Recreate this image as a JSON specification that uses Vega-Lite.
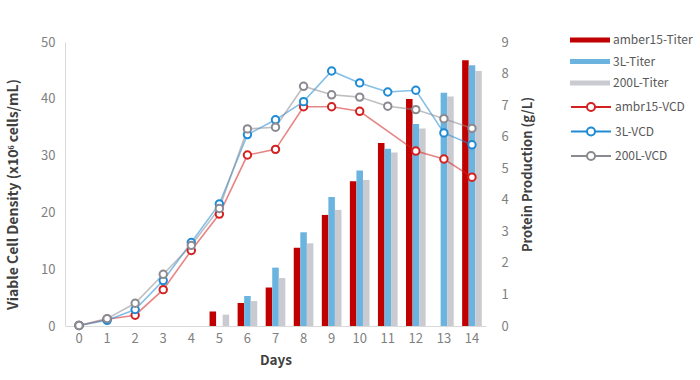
{
  "$schema": "https://vega.github.io/schema/vega-lite/v6.json",
  "autosize": {"type": "none"},
  "padding": {"left": 65, "top": 42, "right": 214, "bottom": 54},
  "width": 421,
  "height": 284,
  "background": "white",
  "config": {
    "font": "Noto Sans CJK SC",
    "view": {"stroke": null},
    "axis": {
      "grid": false,
      "ticks": false,
      "labelColor": "#7f7f7f",
      "labelFontSize": 13,
      "labelFont": "Noto Sans CJK SC",
      "titleFont": "Noto Sans CJK SC",
      "titleColor": "#404040",
      "titleFontSize": 13,
      "titleFontWeight": "bold",
      "domainColor": "#d9d9d9"
    },
    "legend": {
      "labelFont": "Noto Sans CJK SC",
      "labelFontSize": 12,
      "labelColor": "#595959"
    }
  },
  "datasets": {
    "titer": [
      {"day": 5, "series": "amber15-Titer", "titer": 0.46},
      {"day": 5, "series": "200L-Titer", "titer": 0.36},
      {"day": 6, "series": "amber15-Titer", "titer": 0.73},
      {"day": 6, "series": "3L-Titer", "titer": 0.95},
      {"day": 6, "series": "200L-Titer", "titer": 0.79},
      {"day": 7, "series": "amber15-Titer", "titer": 1.22},
      {"day": 7, "series": "3L-Titer", "titer": 1.85},
      {"day": 7, "series": "200L-Titer", "titer": 1.52},
      {"day": 8, "series": "amber15-Titer", "titer": 2.48},
      {"day": 8, "series": "3L-Titer", "titer": 2.97},
      {"day": 8, "series": "200L-Titer", "titer": 2.62},
      {"day": 9, "series": "amber15-Titer", "titer": 3.52},
      {"day": 9, "series": "3L-Titer", "titer": 4.09},
      {"day": 9, "series": "200L-Titer", "titer": 3.68},
      {"day": 10, "series": "amber15-Titer", "titer": 4.59},
      {"day": 10, "series": "3L-Titer", "titer": 4.93},
      {"day": 10, "series": "200L-Titer", "titer": 4.63},
      {"day": 11, "series": "amber15-Titer", "titer": 5.8},
      {"day": 11, "series": "3L-Titer", "titer": 5.62},
      {"day": 11, "series": "200L-Titer", "titer": 5.5},
      {"day": 12, "series": "amber15-Titer", "titer": 7.19},
      {"day": 12, "series": "3L-Titer", "titer": 6.4},
      {"day": 12, "series": "200L-Titer", "titer": 6.26},
      {"day": 13, "series": "3L-Titer", "titer": 7.39},
      {"day": 13, "series": "200L-Titer", "titer": 7.27},
      {"day": 14, "series": "amber15-Titer", "titer": 8.42},
      {"day": 14, "series": "3L-Titer", "titer": 8.26},
      {"day": 14, "series": "200L-Titer", "titer": 8.08}
    ],
    "vcd": [
      {"day": 0, "series": "ambr15-VCD", "vcd": 0.1},
      {"day": 1, "series": "ambr15-VCD", "vcd": 1.2},
      {"day": 2, "series": "ambr15-VCD", "vcd": 1.9},
      {"day": 3, "series": "ambr15-VCD", "vcd": 6.4},
      {"day": 4, "series": "ambr15-VCD", "vcd": 13.3},
      {"day": 5, "series": "ambr15-VCD", "vcd": 19.7},
      {"day": 6, "series": "ambr15-VCD", "vcd": 30.1},
      {"day": 7, "series": "ambr15-VCD", "vcd": 31.1},
      {"day": 8, "series": "ambr15-VCD", "vcd": 38.6},
      {"day": 9, "series": "ambr15-VCD", "vcd": 38.6},
      {"day": 10, "series": "ambr15-VCD", "vcd": 37.8},
      {"day": 12, "series": "ambr15-VCD", "vcd": 30.8},
      {"day": 13, "series": "ambr15-VCD", "vcd": 29.4},
      {"day": 14, "series": "ambr15-VCD", "vcd": 26.2},
      {"day": 0, "series": "3L-VCD", "vcd": 0.1},
      {"day": 1, "series": "3L-VCD", "vcd": 1.0},
      {"day": 2, "series": "3L-VCD", "vcd": 2.9},
      {"day": 3, "series": "3L-VCD", "vcd": 8.0},
      {"day": 4, "series": "3L-VCD", "vcd": 14.7},
      {"day": 5, "series": "3L-VCD", "vcd": 21.5},
      {"day": 6, "series": "3L-VCD", "vcd": 33.7},
      {"day": 7, "series": "3L-VCD", "vcd": 36.3},
      {"day": 8, "series": "3L-VCD", "vcd": 39.5},
      {"day": 9, "series": "3L-VCD", "vcd": 44.9},
      {"day": 10, "series": "3L-VCD", "vcd": 42.8},
      {"day": 11, "series": "3L-VCD", "vcd": 41.2},
      {"day": 12, "series": "3L-VCD", "vcd": 41.5},
      {"day": 13, "series": "3L-VCD", "vcd": 34.0},
      {"day": 14, "series": "3L-VCD", "vcd": 31.9},
      {"day": 0, "series": "200L-VCD", "vcd": 0.1},
      {"day": 1, "series": "200L-VCD", "vcd": 1.3},
      {"day": 2, "series": "200L-VCD", "vcd": 4.0},
      {"day": 3, "series": "200L-VCD", "vcd": 9.1},
      {"day": 4, "series": "200L-VCD", "vcd": 14.2},
      {"day": 5, "series": "200L-VCD", "vcd": 20.7},
      {"day": 6, "series": "200L-VCD", "vcd": 34.7},
      {"day": 7, "series": "200L-VCD", "vcd": 35.0},
      {"day": 8, "series": "200L-VCD", "vcd": 42.2},
      {"day": 9, "series": "200L-VCD", "vcd": 40.7},
      {"day": 10, "series": "200L-VCD", "vcd": 40.3},
      {"day": 11, "series": "200L-VCD", "vcd": 38.7},
      {"day": 12, "series": "200L-VCD", "vcd": 38.1},
      {"day": 13, "series": "200L-VCD", "vcd": 36.5},
      {"day": 14, "series": "200L-VCD", "vcd": 34.8}
    ]
  },
  "layer": [
    {
      "data": {"name": "titer"},
      "mark": {"type": "bar"},
      "encoding": {
        "x": {
          "field": "day", "type": "ordinal",
          "scale": {"domain": [0,1,2,3,4,5,6,7,8,9,10,11,12,13,14], "paddingInner": 0.3, "paddingOuter": 0.15},
          "axis": {"title": "Days", "labelAngle": 0, "labelPadding": 6, "titlePadding": 8, "titleFontSize": 13.5}
        },
        "xOffset": {
          "field": "series", "type": "nominal",
          "scale": {"domain": ["amber15-Titer", "3L-Titer", "200L-Titer"], "paddingInner": 0}
        },
        "y": {
          "field": "titer", "type": "quantitative",
          "scale": {"domain": [0, 9], "nice": false},
          "axis": {"orient": "right", "title": "Protein Production (g/L)", "values": [0,1,2,3,4,5,6,7,8,9], "domain": false, "labelPadding": 15, "titleFontSize": 13, "titleAngle": -90, "titleX": 41, "titleY": 132, "titleBaseline": "middle", "titleAlign": "center"}
        },
        "fill": {
          "field": "series", "type": "nominal",
          "scale": {"domain": ["amber15-Titer", "3L-Titer", "200L-Titer"], "range": ["#c00000", "#6cb4e0", "#c9cbd1"]},
          "legend": {
            "title": null, "orient": "none", "legendX": 505, "legendY": -12,
            "symbolType": "M-1,-0.25H3V0.25H-1Z", "symbolSize": 400, "symbolStrokeWidth": 0,
            "labelOffset": 23, "rowPadding": 5.5
          }
        }
      }
    },
    {
      "data": {"name": "vcd"},
      "layer": [
        {
          "mark": {"type": "line", "strokeWidth": 1.6, "strokeOpacity": 0.55},
          "encoding": {
            "x": {"field": "day", "type": "ordinal", "bandPosition": 0.5},
            "y": {
              "field": "vcd", "type": "quantitative",
              "scale": {"domain": [0, 50], "nice": false},
              "axis": {"orient": "left", "title": "Viable Cell Density (x10⁶ cells/mL)", "values": [0,5,10,15,20,25,30,35,40,45,50], "labelPadding": 10, "titleFontSize": 14, "titleAngle": -90, "titleX": -52, "titleY": 152, "titleBaseline": "middle", "titleAlign": "center"}
            },
            "stroke": {
              "field": "series", "type": "nominal",
              "scale": {"domain": ["ambr15-VCD", "3L-VCD", "200L-VCD"], "range": ["#d42020", "#1f8bd4", "#8a8a90"]},
              "legend": {
                "title": null, "orient": "none", "legendX": 505, "legendY": 54,
                "symbolType": "M-1,0H0.6M1.4,0H3M1.4,0A0.4,0.4,0,1,1,0.6,0A0.4,0.4,0,1,1,1.4,0Z", "symbolSize": 400, "symbolStrokeWidth": 2, "symbolFillColor": "white", "symbolOpacity": 1,
                "labelOffset": 23, "rowPadding": 5.5
              }
            }
          }
        },
        {
          "mark": {"type": "point", "shape": "circle", "size": 55, "strokeWidth": 2, "filled": true, "fill": "white", "opacity": 1},
          "encoding": {
            "x": {"field": "day", "type": "ordinal", "bandPosition": 0.5},
            "y": {"field": "vcd", "type": "quantitative"},
            "stroke": {"field": "series", "type": "nominal"}
          }
        }
      ]
    }
  ],
  "resolve": {"scale": {"y": "independent"}}
}
